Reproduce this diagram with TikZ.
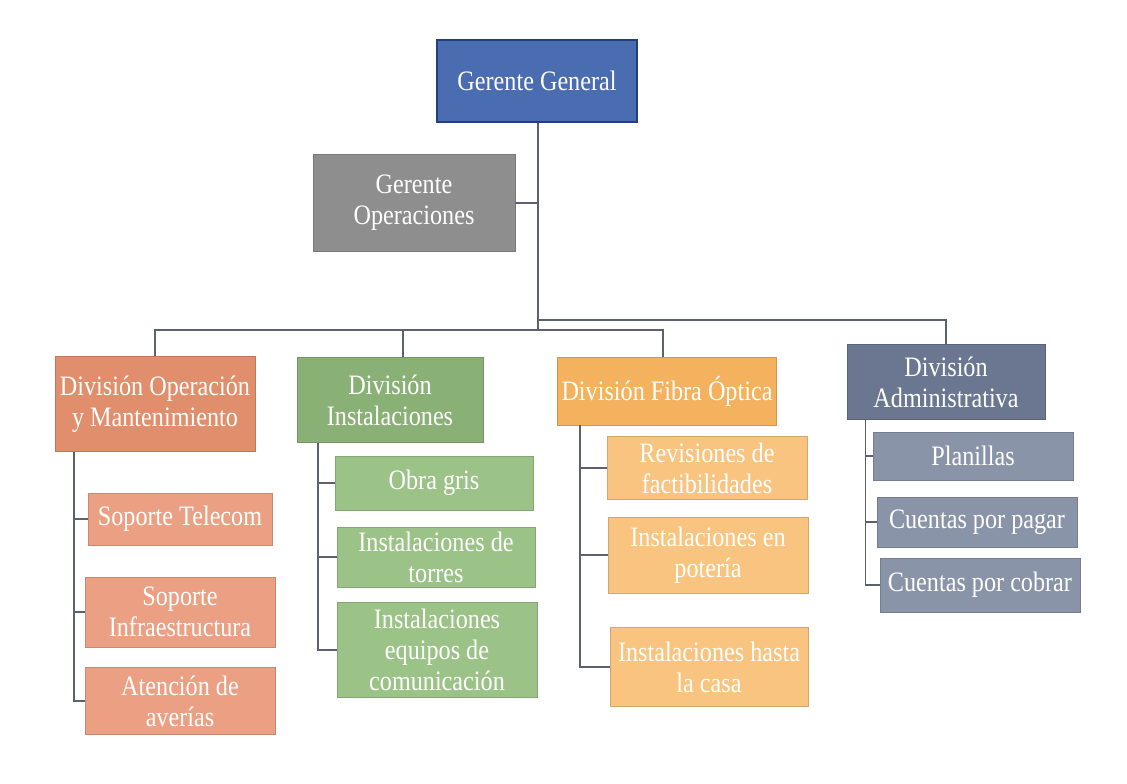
\documentclass[tikz,border=0pt]{standalone}
\usepackage{fontspec}
\setmainfont{Liberation Serif}[FakeStretch=0.86]
\definecolor{azul}{HTML}{4A6CB0}
\definecolor{azulborde}{HTML}{23407A}
\definecolor{gris}{HTML}{8E8E8E}
\definecolor{salmon}{HTML}{E08E6B}
\definecolor{salmonclaro}{HTML}{EBA083}
\definecolor{verde}{HTML}{8AB175}
\definecolor{verdeclaro}{HTML}{9CC387}
\definecolor{naranja}{HTML}{F4B25E}
\definecolor{naranjaclaro}{HTML}{F8C47F}
\definecolor{pizarra}{HTML}{6B7790}
\definecolor{pizarraclaro}{HTML}{8A94A8}
\definecolor{linea}{HTML}{5C616C}
\tikzset{
  caja/.style={rectangle, align=center, text=white, inner sep=1pt,
    font=\fontsize{20}{22}\selectfont, draw=#1!85!black, fill=#1, line width=0.6pt},
  conector/.style={draw=linea, line width=1.3pt}
}
\begin{document}
\begin{tikzpicture}[x=0.025cm,y=-0.025cm]
\useasboundingbox (0,0) rectangle (1127,784);
\node[caja=azul, draw=azulborde, line width=1.2pt, minimum width=5cm, minimum height=2.05cm] (gg) at (537,81) {Gerente General};
\node[caja=gris, minimum width=5.05cm, minimum height=2.42cm] (go) at (414,203) {Gerente\\Operaciones};
\node[caja=salmon, minimum width=5cm, minimum height=2.37cm] (dom) at (155,404) {División Operación\\y Mantenimiento};
\node[caja=verde, minimum width=4.65cm, minimum height=2.12cm] (di) at (390,400) {División\\Instalaciones};
\node[caja=naranja, minimum width=5.47cm, minimum height=1.7cm] (dfo) at (667,391) {División Fibra Óptica};
\node[caja=pizarra, minimum width=4.95cm, minimum height=1.87cm] (da) at (946,382) {División\\Administrativa};
% hijos
\node[caja=salmonclaro, minimum width=4.6cm, minimum height=1.3cm] (st) at (180,519) {Soporte Telecom};
\node[caja=salmonclaro, minimum width=4.75cm, minimum height=1.75cm] (si) at (180,612) {Soporte\\Infraestructura};
\node[caja=salmonclaro, minimum width=4.75cm, minimum height=1.67cm] (ave) at (180,701) {Atención de\\averías};
\node[caja=verdeclaro, minimum width=4.95cm, minimum height=1.35cm] (og) at (434,483) {Obra gris};
\node[caja=verdeclaro, minimum width=4.95cm, minimum height=1.5cm] (it) at (436,557) {Instalaciones de\\torres};
\node[caja=verdeclaro, minimum width=5cm, minimum height=2.37cm] (iec) at (437,650) {Instalaciones\\equipos de\\comunicación};
\node[caja=naranjaclaro, minimum width=5cm, minimum height=1.57cm] (rf) at (707,468) {Revisiones de\\factibilidades};
\node[caja=naranjaclaro, minimum width=5cm, minimum height=1.9cm] (ip) at (708,555) {Instalaciones en\\potería};
\node[caja=naranjaclaro, minimum width=4.95cm, minimum height=1.97cm] (ic) at (709,667) {Instalaciones hasta\\la casa};
\node[caja=pizarraclaro, minimum width=5cm, minimum height=1.2cm] (pl) at (973,456) {Planillas};
\node[caja=pizarraclaro, minimum width=5cm, minimum height=1.25cm] (cp) at (977,522) {Cuentas por pagar};
\node[caja=pizarraclaro, minimum width=5cm, minimum height=1.35cm] (cc) at (980,585) {Cuentas por cobrar};
% lineas
\coordinate (bus) at (538,330);
\coordinate (bus2) at (538,320);
\draw[conector] (gg.south -| bus) -- (bus);
\draw[conector] (go.east) -- (go.east -| bus);
\draw[conector] (bus) -| (dom.north);
\draw[conector] (bus) -| ([xshift=9pt]di.north);
\draw[conector] (bus) -| ([xshift=-3pt]dfo.north);
\draw[conector] (bus2) -| (da.north);
\draw[conector] ([xshift=14pt]dom.south west) |- (st.west);
\draw[conector] ([xshift=14pt]dom.south west) |- (si.west);
\draw[conector] ([xshift=14pt]dom.south west) |- (ave.west);
\draw[conector] ([xshift=15pt]di.south west) |- (og.west);
\draw[conector] ([xshift=15pt]di.south west) |- (it.west);
\draw[conector] ([xshift=15pt]di.south west) |- (iec.west);
\draw[conector] ([xshift=16pt]dfo.south west) |- (rf.west);
\draw[conector] ([xshift=16pt]dfo.south west) |- (ip.west);
\draw[conector] ([xshift=16pt]dfo.south west) |- (ic.west);
\draw[conector] ([xshift=13.5pt]da.south west) |- (pl.west);
\draw[conector] ([xshift=13.5pt]da.south west) |- (cp.west);
\draw[conector] ([xshift=13.5pt]da.south west) |- (cc.west);
\end{tikzpicture}
\end{document}
